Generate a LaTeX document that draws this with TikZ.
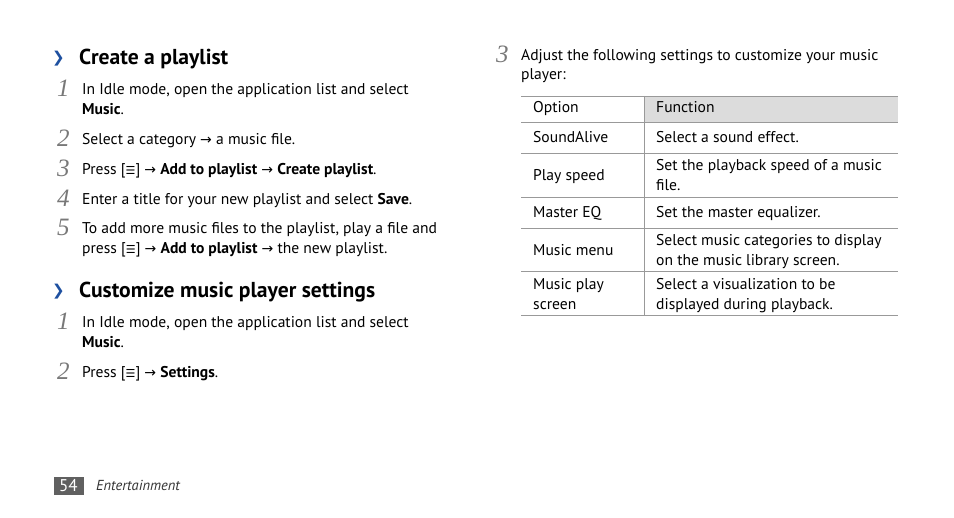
\documentclass[tikz,border=0pt]{standalone}
\usepackage{fontspec}
\setmainfont{PT Sans}
\newfontfamily\numfont{Liberation Serif}
\newfontfamily\symfont{DejaVu Sans}
\definecolor{chev}{RGB}{30,80,160}
\definecolor{numgray}{RGB}{120,120,120}
\definecolor{hdrgray}{RGB}{220,220,220}
\newcommand{\mic}{[{\symfont\fontsize{11}{11}\selectfont ☰}]}
\newcommand{\ar}{{\symfont\fontsize{14}{14}\selectfont →}}
\begin{document}
\begin{tikzpicture}[x=1pt,y=-1pt,
  txt/.style={anchor=base west,inner sep=0pt,font=\fontsize{15.6}{20}\selectfont},
  num/.style={anchor=base west,inner sep=0pt,font=\numfont\itshape\fontsize{25}{25}\selectfont,text=numgray},
  head/.style={anchor=base west,inner sep=0pt,font=\bfseries\fontsize{21.6}{21}\selectfont},
  chv/.style={anchor=base west,inner sep=0pt,font=\symfont\bfseries\fontsize{15}{15}\selectfont,text=chev},
  rl/.style={gray!80,line width=0.8pt}]
\useasboundingbox (0,0) rectangle (954,518);
% left column
\node[chv] (c1) at (52,63) {❯};
\node[head] (h1) at (79,65) {Create a playlist};
\node[num] (n1) at (57,97) {1};
\node[txt] (t1) at (82,95) {In Idle mode, open the application list and select};
\node[txt] (t1b) at (82,115) {\textbf{Music}.};
\node[num] (n2) at (57,147) {2};
\node[txt] (t2) at (82,145) {Select a category \ar{} a music file.};
\node[num] (n3) at (57,177) {3};
\node[txt] (t3) at (82,175) {Press \mic{} \ar{} \textbf{Add to playlist} \ar{} \textbf{Create playlist}.};
\node[num] (n4) at (57,207) {4};
\node[txt] (t4) at (82,205) {Enter a title for your new playlist and select \textbf{Save}.};
\node[num] (n5) at (57,236) {5};
\node[txt] (t5) at (82,234) {To add more music files to the playlist, play a file and};
\node[txt] (t5b) at (82,254) {press \mic{} \ar{} \textbf{Add to playlist} \ar{} the new playlist.};
\node[chv] (c2) at (52,296) {❯};
\node[head] (h2) at (79,298) {Customize music player settings};
\node[num] (n6) at (57,330) {1};
\node[txt] (t6) at (82,328) {In Idle mode, open the application list and select};
\node[txt] (t6b) at (82,348) {\textbf{Music}.};
\node[num] (n7) at (57,380) {2};
\node[txt] (t7) at (82,378) {Press \mic{} \ar{} \textbf{Settings}.};
% right column
\node[num] (n8) at (496,63) {3};
\node[txt] (t8) at (521,61) {Adjust the following settings to customize your music};
\node[txt] (t8b) at (521,80) {player:};
\fill[hdrgray] (644,96) rectangle (898,122);
\draw[rl] (521,96) -- (898,96);
\foreach \yy in {122,153,197,228,271,315} \draw[rl] (521,\yy) -- (898,\yy);
\draw[rl] (644,96) -- (644,315);
\node[txt] (o0) at (533,113) {Option};
\node[txt] (f0) at (656,113) {Function};
\node[txt] (o1) at (533,143) {SoundAlive};
\node[txt] (f1) at (656,143) {Select a sound effect.};
\node[txt] (o2) at (533,181) {Play speed};
\node[txt] (f2) at (656,171) {Set the playback speed of a music};
\node[txt] (f2b) at (656,191) {file.};
\node[txt] (o3) at (533,218) {Master EQ};
\node[txt] (f3) at (656,218) {Set the master equalizer.};
\node[txt] (o4) at (533,256) {Music menu};
\node[txt] (f4) at (656,246) {Select music categories to display};
\node[txt] (f4b) at (656,266) {on the music library screen.};
\node[txt] (o5) at (533,290) {Music play};
\node[txt] (o5b) at (533,310) {screen};
\node[txt] (f5) at (656,290) {Select a visualization to be};
\node[txt] (f5b) at (656,310) {displayed during playback.};
% footer
\fill[gray!75!black] (54,477) rectangle (84,495);
\node[anchor=base west,inner sep=0pt,text=white,font=\fontsize{17}{17}\selectfont] (pg) at (59,492) {54};
\node[anchor=base west,inner sep=0pt,font=\itshape\fontsize{14.5}{14}\selectfont,text=black!80] (ft) at (96,491) {Entertainment};
\end{tikzpicture}
\end{document}
